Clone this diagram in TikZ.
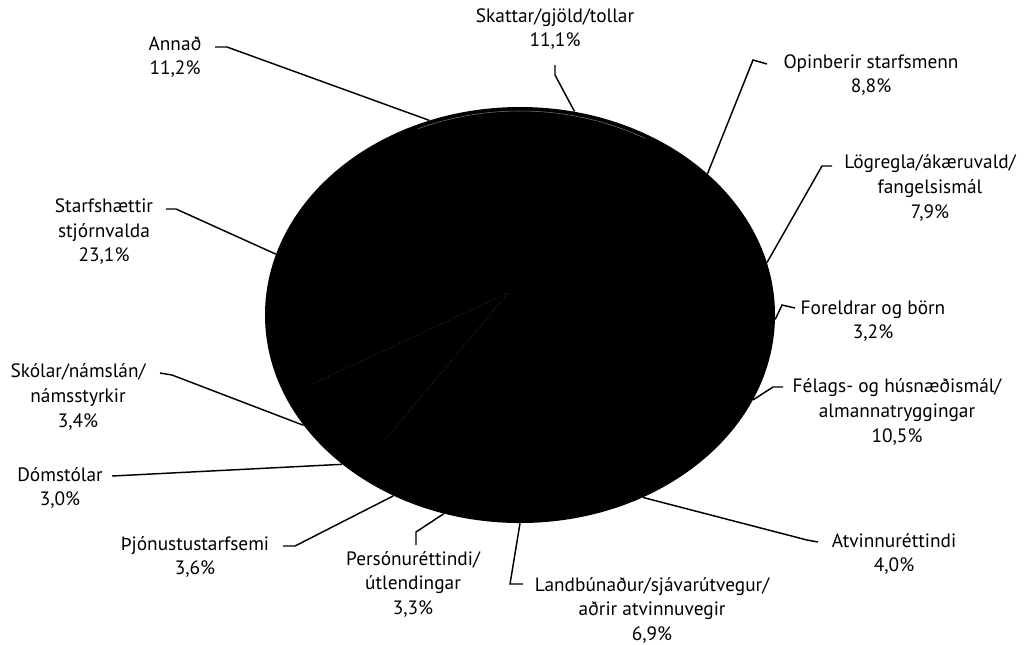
\documentclass[tikz,border=0pt]{standalone}
\usepackage{fontspec}
\setmainfont{PT Sans}
\usetikzlibrary{shapes.geometric}
\begin{document}
\begin{tikzpicture}[x=0.75pt,y=-0.75pt,
  lbl/.style={align=center,inner sep=0pt,font=\fontsize{14.5}{18.4}\selectfont},
  conn/.style={line width=1.1pt,black},
  faint/.style={black!72,line width=0.4pt,densely dotted}]
\useasboundingbox (0,0) rectangle (1030,644);
\node[ellipse,fill=black,draw=none,inner sep=0pt,minimum width=382.5pt,minimum height=312pt] (pie) at (520,315) {};
% faint slice borders
\coordinate (c0) at (508,293);
\coordinate (f1) at (312,384);
\coordinate (f2) at (385,440);
\draw[faint] (c0) -- (f1);
\draw[faint] (c0) -- (f2);
\coordinate (pc) at (520,315);
\draw[black!55,line width=0.4pt] (pc) ++({250*cos(246)},{204*sin(246)}) arc[start angle=246,end angle=300,x radius=250,y radius=204];
% labels
\node[lbl] (skattar) at (555,29) {Skattar/gjöld/tollar\\11,1\%};
\node[lbl] (annad) at (175,57) {Annað\\11,2\%};
\node[lbl] (opinb) at (871,75) {Opinberir starfsmenn\\8,8\%};
\node[lbl] (logr) at (930,188) {Lögregla/ákæruvald/\\fangelsismál\\7,9\%};
\node[lbl] (starf) at (104,232) {Starfshættir\\stjórnvalda\\23,1\%};
\node[lbl] (forel) at (873,321) {Foreldrar og börn\\3,2\%};
\node[lbl] (skolar) at (78,397) {Skólar/námslán/\\námsstyrkir\\3,4\%};
\node[lbl] (felags) at (897,412) {Félags- og húsnæðismál/\\almannatryggingar\\10,5\%};
\node[lbl] (domst) at (60,488) {Dómstólar\\3,0\%};
\node[lbl] (thjon) at (195,557) {Þjónustustarfsemi\\3,6\%};
\node[lbl] (atvr) at (894,554) {Atvinnuréttindi\\4,0\%};
\node[lbl] (perso) at (413,584) {Persónuréttindi/\\útlendingar\\3,3\%};
\node[lbl] (landb) at (652,610) {Landbúnaður/sjávarútvegur/\\aðrir atvinnuvegir\\6,9\%};
% connector start points
\coordinate (s-annad) at (215,47);
\coordinate (s-skattar) at (555,65);
\coordinate (s-opinb) at (767,64);
\coordinate (s-logr) at (832,166);
\coordinate (s-forel) at (795,308);
\coordinate (s-felags) at (783,387);
\coordinate (s-atvr) at (818,542);
\coordinate (s-landb) at (523,584);
\coordinate (s-perso) at (416,545);
\coordinate (s-thjon) at (283,546);
\coordinate (s-domst) at (112,476);
\coordinate (s-skolar) at (160,373);
\coordinate (s-starf) at (166,209);
% connectors
\draw[conn] (s-annad) -- ++(12,0) -- (pie.115.2);
\draw[conn] (s-skattar) -- ++(0,10) -- (pie.75.8);
\draw[conn] (s-opinb) -- ++(-14,-4) -- (pie.37.1);
\draw[conn] (s-logr) -- ++(-10,0) -- (pie.12.2);
\draw[conn] (s-forel) -- ++(-13,-3) -- (pie.-1.6);
\draw[conn] (s-felags) -- ++(-10,0) -- (pie.-20.1);
\draw[conn] (s-atvr) -- ++(-11,-2) -- (pie.-56.3);
\draw[conn] (s-landb) -- ++(-13,0) -- (pie.-90.8);
\draw[conn] (s-perso) -- ++(0,-13) -- (pie.-111.3);
\draw[conn] (s-thjon) -- ++(12,0) -- (pie.-125.9);
\draw[conn] (s-domst) -- (pie.-140.3);
\draw[conn] (s-skolar) -- ++(12,2) -- (pie.207.4);
\draw[conn] (s-starf) -- ++(10,0) -- (pie.166.6);
\end{tikzpicture}
\end{document}
